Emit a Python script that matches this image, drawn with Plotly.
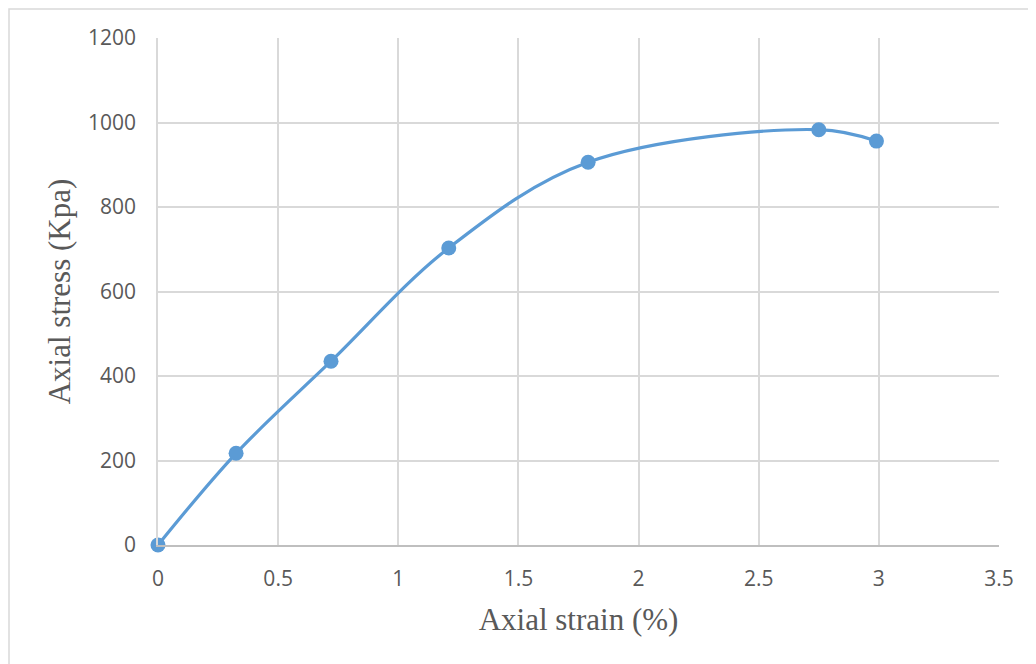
import plotly.graph_objects as go

strain = [0, 0.325, 0.72, 1.21, 1.79, 2.75, 2.99]
stress = [0, 217, 435, 703, 906, 983, 956]

x_ticks = [0, 0.5, 1, 1.5, 2, 2.5, 3, 3.5]
x_tick_labels = ["0", "0.5", "1", "1.5", "2", "2.5", "3", "3.5"]
y_ticks = [0, 200, 400, 600, 800, 1000, 1200]

OFF = 8  # default page body margin
L, R, T, B = 158 - OFF, 999 - OFF, 38 - OFF, 545 - OFF
W, H = 1036 - OFF, 664 - OFF

fig = go.Figure()
fig.add_trace(go.Scatter(
    x=strain, y=stress, mode="lines+markers",
    line=dict(color="#5b9bd5", width=3.2, shape="spline", smoothing=1),
    marker=dict(color="#5b9bd5", size=15),
    showlegend=False, cliponaxis=False,
))

tickfont = dict(family="Open Sans", size=21, color="#595959")
titlefont = dict(family="Liberation Serif", size=31, color="#595959")

fig.update_xaxes(
    range=[0, 3.5], tickvals=x_ticks, ticktext=x_tick_labels,
    showgrid=True, gridcolor="#d9d9d9", gridwidth=1.5,
    zeroline=False, showline=True, linecolor="#bfbfbf", linewidth=1.5,
    ticks="outside", ticklen=14, tickcolor="rgba(0,0,0,0)",
    tickfont=tickfont,
    title=dict(text="Axial strain (%)", font=titlefont, standoff=17),
    mirror=False,
)
fig.update_yaxes(
    range=[0, 1200], tickvals=y_ticks,
    showgrid=True, gridcolor="#d9d9d9", gridwidth=1.5,
    zeroline=False, showline=True, linecolor="#d9d9d9", linewidth=1.5,
    ticks="outside", ticklen=16, tickcolor="rgba(0,0,0,0)",
    tickfont=tickfont,
    title=dict(text="Axial stress (Kpa)", font=titlefont, standoff=8),
)

pw, ph = R - L, B - T
fig.add_shape(
    type="rect", xref="paper", yref="paper",
    x0=(9 - OFF - L) / pw, x1=(W + 10 - L) / pw,
    y0=(B - (H + 10)) / ph, y1=(B - (9 - OFF)) / ph,
    line=dict(color="#d9d9d9", width=1.5), fillcolor="rgba(0,0,0,0)",
    layer="below",
)

fig.update_layout(
    width=W, height=H,
    margin=dict(l=L, r=W - R, t=T, b=H - B),
    plot_bgcolor="white", paper_bgcolor="white",
)

fig.write_html("out.html")
